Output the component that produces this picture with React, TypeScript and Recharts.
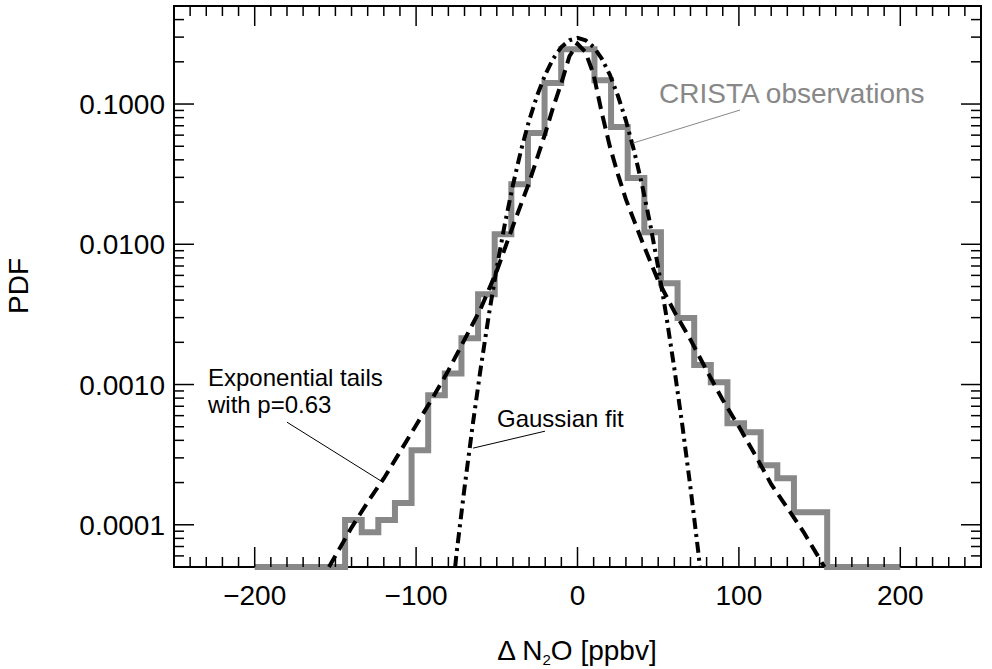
import React from "react";
import { LineChart, Line, XAxis, YAxis, ReferenceArea, ReferenceLine } from "recharts";

const W = 992;
const H = 669;
const PLOT_LEFT = 174;
const PLOT_RIGHT = 981;
const PLOT_TOP = 6;
const PLOT_BOTTOM = 567;
const FONT = "'Liberation Sans', Arial, Helvetica, sans-serif";

const Y_MIN = 5e-5;
const Y_MAX = 0.5;

// CRISTA histogram: left edge of each step and the PDF of that bin (0 = empty bin)
const histEdges = [
  -200, -144, -133.7, -123.4, -113.1, -102.8, -92.5, -82.2, -71.9, -61.6, -51.3,
  -41, -30.7, -20.4, -10.1, 0.2, 10.5, 20.8, 31.1, 41.4, 51.7, 62, 72.3, 82.6,
  92.9, 103.2, 113.5, 123.8, 134.1, 144.4, 154.7, 200,
];
const histPdf = [
  0, 1.08e-4, 8.85e-5, 1.08e-4, 1.43e-4, 3.4e-4, 8.4e-4, 1.2e-3, 2.14e-3, 4.4e-3,
  0.0118, 0.0268, 0.0621, 0.141, 0.246, 0.246, 0.148, 0.0686, 0.0297, 0.0122,
  5.28e-3, 2.98e-3, 1.38e-3, 1.04e-3, 5.3e-4, 4.57e-4, 2.66e-4, 2.15e-4, 1.23e-4,
  1.23e-4, 0, 0,
];

// Gaussian fit (dash-dot)
const gaussX = [
  -75.8, -75, -70, -65, -60, -55, -50, -45, -40, -35, -30, -25, -20, -15, -10, -5, 0,
  5, 10, 15, 20, 25, 30, 35, 40, 45, 50, 55, 60, 65, 70, 75, 75.8,
];
const gaussPdf = [
  5.0e-5, 6.17e-5, 1.84e-4, 5.08e-4, 1.3e-3, 3.1e-3, 6.84e-3, 0.014, 0.0265, 0.0467,
  0.0762, 0.115, 0.162, 0.211, 0.255, 0.285, 0.296, 0.285, 0.255, 0.211, 0.162, 0.115,
  0.0762, 0.0467, 0.0265, 0.014, 6.84e-3, 3.1e-3, 1.3e-3, 5.08e-4, 1.84e-4, 6.17e-5,
  5.0e-5,
];

// exponential tails, p = 0.63 (dashed)
const tailsX = [
  -154, -140, -130, -120, -110, -100, -90, -80, -70, -60, -50, -40, -30, -20, -15, -10,
  -5, 0, 5, 10, 15, 20, 25, 30, 35, 40, 45, 50, 60, 70, 80, 90, 100, 110, 120, 130,
  140, 153,
];
const tailsPdf = [
  5.0e-5, 9.55e-5, 1.45e-4, 2.14e-4, 3.31e-4, 5.13e-4, 7.94e-4, 1.26e-3, 2.09e-3,
  3.47e-3, 6.46e-3, 0.0135, 0.0275, 0.0617, 0.0955, 0.141, 0.219, 0.269, 0.234, 0.162,
  0.0871, 0.0501, 0.0316, 0.0209, 0.0148, 0.0105, 7.59e-3, 5.5e-3, 3.31e-3, 2.09e-3,
  1.26e-3, 7.76e-4, 5.01e-4, 3.16e-4, 1.95e-4, 1.32e-4, 8.91e-5, 5.0e-5,
];

const xMajorTicks = [-200, -100, 0, 100, 200];
const xMajorLabels = ["\u2212200", "\u2212100", "0", "100", "200"];
const yMajorTicks = [0.0001, 0.001, 0.01, 0.1];
const yMajorLabels = ["0.0001", "0.0010", "0.0100", "0.1000"];

const xTicks = Array.from({ length: 49 }, (_, i) => -240 + i * 10);
const yTicks: number[] = [];
for (let e = -5; e <= -1; e++) {
  for (let m = 1; m <= 9; m++) {
    const v = Number((m * Math.pow(10, e)).toPrecision(3));
    if (v > Y_MIN * 1.001 && v < Y_MAX * 0.999) yTicks.push(v);
  }
}

const histData = histEdges.map((x, i) => ({ x, y: Math.max(histPdf[i], Y_MIN) }));
const gaussData = gaussX.map((x, i) => ({ x, y: gaussPdf[i] }));
const tailsData = tailsX.map((x, i) => ({ x, y: tailsPdf[i] }));

const XTick = (props: any) => {
  const { x, payload } = props;
  const idx = xMajorTicks.indexOf(payload.value);
  const len = idx >= 0 ? 20 : 10;
  return (
    <g>
      <line x1={x} x2={x} y1={PLOT_BOTTOM} y2={PLOT_BOTTOM - len} stroke="#000" strokeWidth={1.5} />
      <line x1={x} x2={x} y1={PLOT_TOP} y2={PLOT_TOP + len} stroke="#000" strokeWidth={1.5} />
      {idx >= 0 && (
        <text x={x} y={605} textAnchor="middle" fontSize={28} fontFamily={FONT} fill="#000">
          {xMajorLabels[idx]}
        </text>
      )}
    </g>
  );
};

const YTick = (props: any) => {
  const { y, payload } = props;
  const idx = yMajorTicks.findIndex((t) => Math.abs(t - payload.value) < t * 1e-6);
  const len = idx >= 0 ? 20 : 10;
  return (
    <g>
      <line x1={PLOT_LEFT} x2={PLOT_LEFT + len} y1={y} y2={y} stroke="#000" strokeWidth={1.5} />
      <line x1={PLOT_RIGHT} x2={PLOT_RIGHT - len} y1={y} y2={y} stroke="#000" strokeWidth={1.5} />
      {idx >= 0 && (
        <text x={165} y={y + 10} textAnchor="end" fontSize={28} fontFamily={FONT} fill="#000">
          {yMajorLabels[idx]}
        </text>
      )}
    </g>
  );
};

export default function App() {
  return (
    <div style={{ position: "absolute", left: 0, top: 0, width: W, height: H, background: "#fff" }}>
      <LineChart width={W} height={H} margin={{ top: PLOT_TOP, right: W - PLOT_RIGHT, bottom: 0, left: 0 }}>
        <XAxis
          dataKey="x"
          type="number"
          domain={[-250, 250]}
          ticks={xTicks}
          interval={0}
          height={H - PLOT_BOTTOM}
          tick={XTick}
          tickLine={false}
          axisLine={false}
        />
        <YAxis
          type="number"
          scale="log"
          domain={[Y_MIN, Y_MAX]}
          ticks={yTicks}
          interval={0}
          width={PLOT_LEFT}
          tick={YTick}
          tickLine={false}
          axisLine={false}
        />
        <ReferenceArea
          x1={-250}
          x2={250}
          y1={Y_MIN}
          y2={Y_MAX}
          fill="none"
          fillOpacity={0}
          stroke="#000"
          strokeWidth={2}
          ifOverflow="visible"
        />
        <Line
          data={histData}
          dataKey="y"
          type="stepAfter"
          stroke="#888888"
          strokeWidth={6}
          strokeLinejoin="miter"
          dot={false}
          activeDot={false}
          isAnimationActive={false}
        />
        <Line
          data={tailsData}
          dataKey="y"
          type="linear"
          stroke="#000"
          strokeWidth={4}
          strokeDasharray="13 7"
          dot={false}
          activeDot={false}
          isAnimationActive={false}
        />
        <Line
          data={gaussData}
          dataKey="y"
          type="linear"
          stroke="#000"
          strokeWidth={4}
          strokeDasharray="11 5 3 5"
          dot={false}
          activeDot={false}
          isAnimationActive={false}
        />
        <ReferenceLine
          segment={[{ x: 100.7, y: 0.0906 }, { x: 34.4, y: 0.0527 }]}
          stroke="#888888"
          strokeWidth={1}
          ifOverflow="visible"
        />
        <ReferenceLine
          segment={[{ x: -180, y: 5.39e-4 }, { x: -120.5, y: 2.01e-4 }]}
          stroke="#000"
          strokeWidth={1}
          ifOverflow="visible"
        />
        <ReferenceLine
          segment={[{ x: -20.1, y: 4.65e-4 }, { x: -64.7, y: 3.52e-4 }]}
          stroke="#000"
          strokeWidth={1}
          ifOverflow="visible"
        />
      </LineChart>
      <svg
        width={W}
        height={H}
        style={{ position: "absolute", left: 0, top: 0, pointerEvents: "none" }}
        fontFamily={FONT}
      >
        <text x={659} y={103} fontSize={28} fill="#888888">
          CRISTA observations
        </text>
        <text x={208} y={386} fontSize={24} fill="#000">
          Exponential tails
        </text>
        <text x={208} y={413} fontSize={24} fill="#000">
          with p=0.63
        </text>
        <text x={497} y={427} fontSize={24} fill="#000">
          Gaussian fit
        </text>
        <text transform="translate(28,286) rotate(-90)" textAnchor="middle" fontSize={28} fill="#000">
          PDF
        </text>
        <text x={577} y={660} textAnchor="middle" fontSize={28} fill="#000">
          {"\u0394 N"}
          <tspan fontSize={15} dy={5}>
            2
          </tspan>
          <tspan dy={-5}>O [ppbv]</tspan>
        </text>
      </svg>
    </div>
  );
}
